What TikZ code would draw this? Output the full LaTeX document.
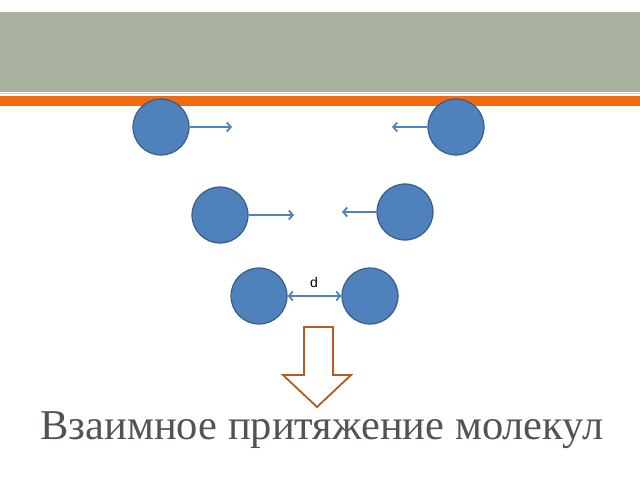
\documentclass[tikz,border=0pt]{standalone}
\usepackage{fontspec}
\setmainfont{Liberation Serif}
\newfontfamily\sansf{Liberation Sans}
\usetikzlibrary{arrows.meta}
\definecolor{band}{RGB}{169,176,158}
\definecolor{orng}{RGB}{240,106,16}
\definecolor{ball}{RGB}{79,129,189}
\definecolor{balle}{RGB}{56,93,138}
\definecolor{brn}{RGB}{184,90,30}
\definecolor{txt}{RGB}{80,86,78}
\begin{document}
\begin{tikzpicture}[x=1pt,y=-1pt,
  mol/.style={circle,fill=ball,draw=balle,line width=1.2pt,minimum size=56pt,inner sep=0pt},
  force/.style={draw=ball,line width=1.8pt,-{Straight Barb[length=4pt,width=9pt]}}]
\useasboundingbox (0,0) rectangle (640,480);
\fill[band] (0,12) rectangle (640,92);
\draw[band!60,line width=1pt] (0,93.5) -- (640,93.5);
\fill[orng] (0,96) rectangle (640,106);
\node[mol] (a1) at (161,127) {};
\node[mol] (a2) at (456,127) {};
\node[mol] (b1) at (220,215) {};
\node[mol] (b2) at (405,212) {};
\node[mol] (c1) at (259,296) {};
\node[mol] (c2) at (370,296) {};
\coordinate (pa1) at (232,127);
\coordinate (pa2) at (392,127);
\coordinate (pb1) at (294,215);
\coordinate (pb2) at (342,212);
\draw[force] (a1.east) -- (pa1);
\draw[force] (a2.west) -- (pa2);
\draw[force] (b1.east) -- (pb1);
\draw[force] (b2.west) -- (pb2);
\draw[force,{Straight Barb[length=4pt,width=9pt]}-{Straight Barb[length=4pt,width=9pt]}] (c1.east) -- (c2.west);
\node[font=\sansf\fontsize{14}{16}\selectfont] (d) at (314,282) {d};
\draw[brn,line width=1.8pt,fill=white,line join=miter] (304,327) -- (333,327) -- (333,375) -- (351,375) -- (317,407) -- (283,375) -- (304,375) -- cycle;
\node[text=txt,font=\fontsize{42.5}{46}\selectfont] (t) at (322,430) {Взаимное притяжение молекул};
\end{tikzpicture}
\end{document}
